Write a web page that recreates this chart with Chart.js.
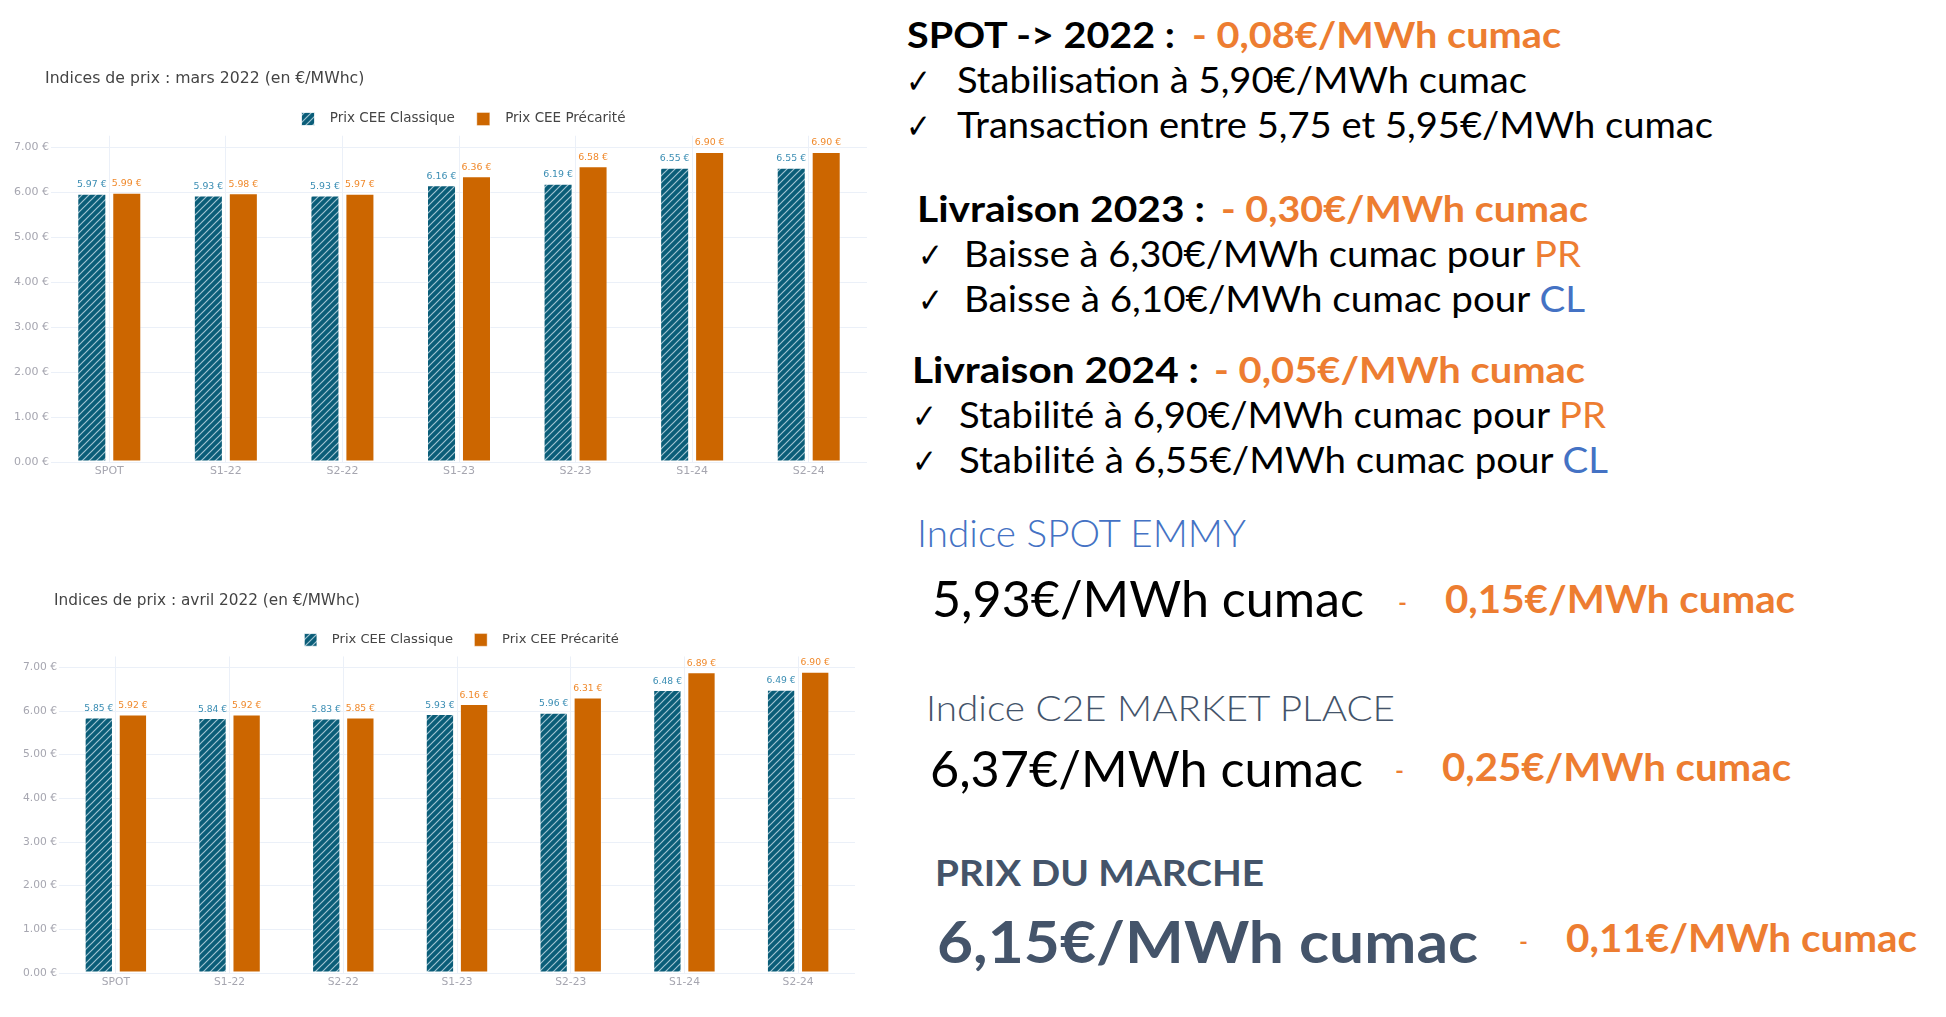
<!DOCTYPE html>
<html lang="fr">
<head>
<meta charset="utf-8">
<script src="https://cdn.jsdelivr.net/npm/chart.js@4.4.0/dist/chart.umd.min.js"></script>
<style>
html,body{margin:0;padding:0;background:#fff;width:1946px;height:1017px;overflow:hidden;}
.cw{position:absolute;left:0;}
.t{position:absolute;white-space:nowrap;font-family:Lato,'Noto Sans',sans-serif;line-height:1;transform-origin:0 0;font-size:36px;color:#000;}
.b{font-weight:700}
.l{font-weight:300}
.or{color:#ED7D31}.bl{color:#4472C4}.sl{color:#44546A}
.ck{font-family:'DejaVu Sans',sans-serif;font-size:34px;}
</style>
</head>
<body>
<div class="cw" style="top:60px;width:900px;height:440px"><canvas id="c1" width="900" height="440"></canvas></div>
<div class="cw" style="top:580px;width:900px;height:437px"><canvas id="c2" width="900" height="437"></canvas></div>

<div class="t b" data-x="907" data-base="48" data-w="268">SPOT -&gt; 2022 :</div>
<div class="t b or" data-x="1192" data-base="48" data-w="369">- 0,08€/MWh cumac</div>
<div class="t ck" data-x="906" data-base="93" data-w="25">✓</div>
<div class="t" data-x="957" data-base="93" data-w="570">Stabilisation à 5,90€/MWh cumac</div>
<div class="t ck" data-x="906" data-base="138" data-w="25">✓</div>
<div class="t" data-x="957" data-base="138" data-w="756">Transaction entre 5,75 et 5,95€/MWh cumac</div>

<div class="t b" data-x="917" data-base="222" data-w="288" style="font-size:37px">Livraison 2023 :</div>
<div class="t b or" data-x="1221" data-base="222" data-w="367" style="font-size:37px">- 0,30€/MWh cumac</div>
<div class="t ck" data-x="918" data-base="267" data-w="25">✓</div>
<div class="t" data-x="964" data-base="267" data-w="617">Baisse à 6,30€/MWh cumac pour <span class="or">PR</span></div>
<div class="t ck" data-x="918" data-base="312" data-w="25">✓</div>
<div class="t" data-x="964" data-base="312" data-w="621">Baisse à 6,10€/MWh cumac pour <span class="bl">CL</span></div>

<div class="t b" data-x="912" data-base="383" data-w="287" style="font-size:37px">Livraison 2024 :</div>
<div class="t b or" data-x="1214" data-base="383" data-w="371" style="font-size:37px">- 0,05€/MWh cumac</div>
<div class="t ck" data-x="912" data-base="428" data-w="25">✓</div>
<div class="t" data-x="959" data-base="428" data-w="647">Stabilité à 6,90€/MWh cumac pour <span class="or">PR</span></div>
<div class="t ck" data-x="912" data-base="473" data-w="25">✓</div>
<div class="t" data-x="959" data-base="473" data-w="649">Stabilité à 6,55€/MWh cumac pour <span class="bl">CL</span></div>

<div class="t l bl" data-x="917" data-base="547" data-w="329" style="font-size:37px">Indice SPOT EMMY</div>
<div class="t" data-x="932" data-base="617" data-w="432" style="font-size:51px">5,93€/MWh cumac</div>
<div class="t or" data-x="1398" data-base="613" data-w="9" style="font-size:30px">-</div>
<div class="t b or" data-x="1445" data-base="613" data-w="350" style="font-size:38px">0,15€/MWh cumac</div>

<div class="t l sl" data-x="926" data-base="721" data-w="469">Indice C2E MARKET PLACE</div>
<div class="t" data-x="930" data-base="787" data-w="433" style="font-size:50px">6,37€/MWh cumac</div>
<div class="t or" data-x="1395" data-base="781" data-w="9" style="font-size:30px">-</div>
<div class="t b or" data-x="1442" data-base="781" data-w="349" style="font-size:38px">0,25€/MWh cumac</div>

<div class="t b sl" data-x="935" data-base="886" data-w="329">PRIX DU MARCHE</div>
<div class="t b sl" data-x="937" data-base="963" data-w="541" style="font-size:58px">6,15€/MWh cumac</div>
<div class="t or" data-x="1519" data-base="952" data-w="9" style="font-size:30px">-</div>
<div class="t b or" data-x="1566" data-base="952" data-w="351" style="font-size:39px">0,11€/MWh cumac</div>

<script>
// ---- data ----
const categories = ['SPOT', 'S1-22', 'S2-22', 'S1-23', 'S2-23', 'S1-24', 'S2-24'];
const seriesNames = ['Prix CEE Classique', 'Prix CEE Précarité'];
const titleMars = 'Indices de prix : mars 2022 (en €/MWhc)';
const titleAvril = 'Indices de prix : avril 2022 (en €/MWhc)';
const marsClassique = [5.97, 5.93, 5.93, 6.16, 6.19, 6.55, 6.55];
const marsPrecarite = [5.99, 5.98, 5.97, 6.36, 6.58, 6.90, 6.90];
const avrilClassique = [5.85, 5.84, 5.83, 5.93, 5.96, 6.48, 6.49];
const avrilPrecarite = [5.92, 5.92, 5.85, 6.16, 6.31, 6.89, 6.90];
const yTickValues = [0, 1, 2, 3, 4, 5, 6, 7];

// ---- styles ----
const BLUE = '#0a5d78';
const ORANGE = '#cc6600';
const BLUE_LABEL = '#3a8db3';
const ORANGE_LABEL = '#f0892b';
const GRID = '#EBF0F8';
const TICK = '#a6a6b0';
const FONT = "'DejaVu Sans', sans-serif";

function hatchPattern(ctx) {
  const s = 7;
  const c = document.createElement('canvas');
  c.width = s; c.height = s;
  const g = c.getContext('2d');
  g.fillStyle = BLUE; g.fillRect(0, 0, s, s);
  g.strokeStyle = 'rgba(225,240,248,0.7)';
  g.lineWidth = 1.2;
  g.beginPath();
  g.moveTo(0, s); g.lineTo(s, 0);
  g.moveTo(-1, 1); g.lineTo(1, -1);
  g.moveTo(s - 1, s + 1); g.lineTo(s + 1, s - 1);
  g.stroke();
  return ctx.createPattern(c, 'repeat');
}

const valueLabels = {
  id: 'valueLabels',
  afterDatasetsDraw(chart, args, opts) {
    const ctx = chart.ctx;
    chart.data.datasets.forEach((ds, i) => {
      const meta = chart.getDatasetMeta(i);
      meta.data.forEach((bar, j) => {
        ctx.save();
        ctx.font = opts.size + 'px ' + FONT;
        ctx.fillStyle = i === 0 ? BLUE_LABEL : ORANGE_LABEL;
        ctx.textAlign = 'center';
        ctx.textBaseline = 'alphabetic';
        ctx.fillText(ds.data[j].toFixed(2) + ' €', bar.x, bar.y - 6.5);
        ctx.restore();
      });
    });
  }
};

const boxShift = {
  id: 'boxShift',
  afterLayout(chart, args, opts) {
    if (chart.legend) { chart.legend.left += opts.legendDx; chart.legend.right += opts.legendDx; }
    if (chart.titleBlock) { chart.titleBlock.left += opts.titleDx; chart.titleBlock.right += opts.titleDx; }
  }
};

function makeChart(id, title, classique, precarite, p) {
  const canvas = document.getElementById(id);
  const ctx = canvas.getContext('2d');
  return new Chart(ctx, {
    type: 'bar',
    data: {
      labels: categories,
      datasets: [
        { label: seriesNames[0], data: classique, backgroundColor: hatchPattern(ctx),
          borderColor: 'rgba(255,255,255,0.75)', borderWidth: 1, borderSkipped: false,
          categoryPercentage: 0.6, barPercentage: 0.83 },
        { label: seriesNames[1], data: precarite, backgroundColor: ORANGE,
          borderColor: 'rgba(255,255,255,0.4)', borderWidth: 1, borderSkipped: false,
          categoryPercentage: 0.6, barPercentage: 0.83 }
      ]
    },
    options: {
      responsive: false,
      animation: false,
      devicePixelRatio: 1,
      layout: { padding: { left: 0, right: p.padR, top: 0, bottom: p.padB } },
      plugins: {
        title: { display: true, text: title, align: 'start', color: '#444',
          font: { family: FONT, size: p.titleSize, weight: 'normal' },
          padding: { top: p.titleTop, bottom: p.titleBottom } },
        legend: { display: true, position: 'top', align: 'center',
          labels: { boxWidth: p.box, boxHeight: p.box, padding: p.legPad, color: '#444',
            font: { family: FONT, size: p.legSize },
            generateLabels(chart) {
              const items = Chart.defaults.plugins.legend.labels.generateLabels(chart);
              items.forEach(it => { it.text = '  ' + it.text; });
              return items;
            } } },
        tooltip: { enabled: false },
        valueLabels: { size: p.valSize },
        boxShift: { legendDx: p.legDx, titleDx: p.titleDx }
      },
      scales: {
        x: {
          grid: { color: GRID, offset: false, drawTicks: false },
          border: { display: false },
          ticks: { color: TICK, font: { family: FONT, size: p.tickSize }, padding: 3, maxRotation: 0 },
          afterFit(s) { s.height = 20; }
        },
        y: {
          min: 0, max: p.yMax,
          grid: { color: GRID, drawTicks: false },
          border: { display: false },
          ticks: { color: TICK, font: { family: FONT, size: p.tickSize }, padding: 2,
            includeBounds: false, callback: v => v.toFixed(2) + ' €' },
          afterBuildTicks(s) { s.ticks = yTickValues.map(v => ({ value: v })); },
          afterFit(s) { s.width = p.yW; }
        }
      }
    },
    plugins: [valueLabels, boxShift]
  });
}

function fitTexts() {
  document.querySelectorAll('[data-x]').forEach(el => {
    el.style.left = el.dataset.x + 'px';
    el.style.top = '0px';
    el.style.transform = 'none';
    const m = document.createElement('span');
    m.style.cssText = 'display:inline-block;width:0;height:0;vertical-align:baseline';
    el.appendChild(m);
    const r = el.getBoundingClientRect();
    const base = m.getBoundingClientRect().top - r.top;
    el.style.top = (parseFloat(el.dataset.base) - base) + 'px';
    el.style.transform = 'scaleX(' + (parseFloat(el.dataset.w) / r.width) + ')';
  });
}

function init() {
  makeChart('c1', titleMars, marsClassique, marsPrecarite, {
    padR: 33, padB: 18, yW: 51, yMax: 7.26, titleDx: 45,
    titleSize: 15.7, titleTop: 10, titleBottom: 1.4,
    legSize: 13.5, box: 13, legPad: 22, legDx: 30,
    tickSize: 11, valSize: 9.4
  });
  makeChart('c2', titleAvril, avrilClassique, avrilPrecarite, {
    padR: 45, padB: 24, yW: 59, yMax: 7.25, titleDx: 54,
    titleSize: 15.3, titleTop: 12.3, titleBottom: 1.3,
    legSize: 13.1, box: 12.7, legPad: 21.4, legDx: 34,
    tickSize: 10.7, valSize: 9.2
  });
  fitTexts();
}
if (document.fonts && document.fonts.ready) { document.fonts.ready.then(init); } else { window.addEventListener('load', init); }
</script>
</body>
</html>
